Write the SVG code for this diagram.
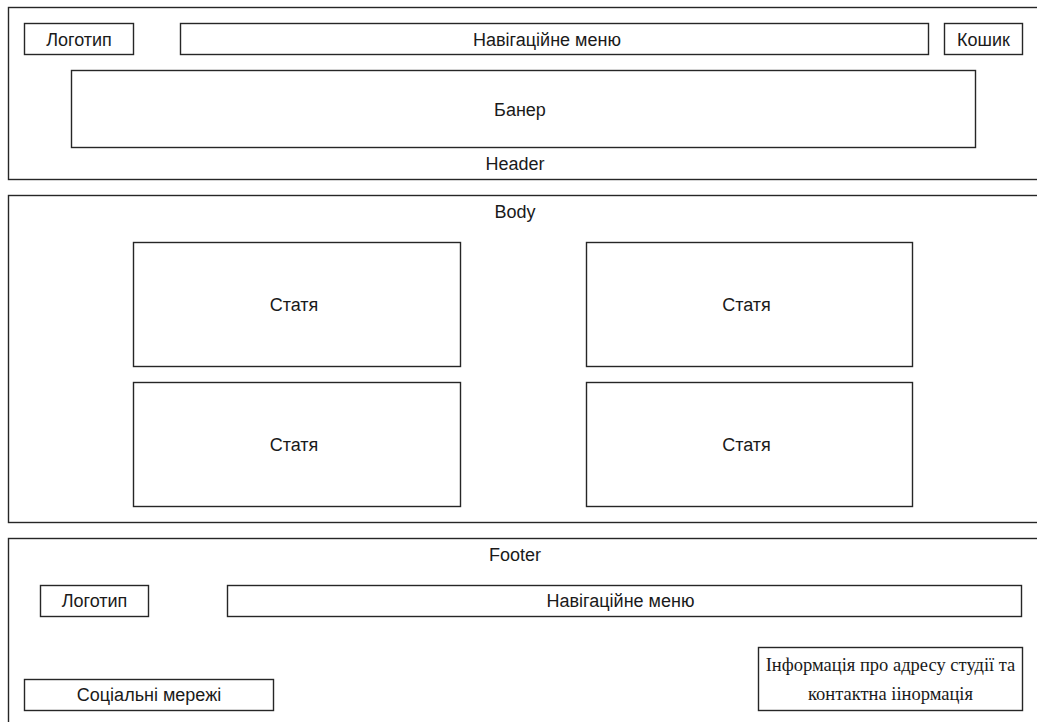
<svg xmlns="http://www.w3.org/2000/svg" width="1037" height="722" viewBox="0 0 1037 722">
<style>
rect{fill:#fff;stroke:#262626;stroke-width:1.4}
text{font-family:"Liberation Sans",Arial,sans-serif;font-size:18px;fill:#1a1a1a;text-anchor:middle}
.serif{font-family:"Liberation Serif","Times New Roman",serif;font-size:18.5px}
</style>
<rect x="0" y="0" width="1037" height="722" style="stroke:none"/>
<g id="header">
<rect x="8.5" y="7.5" width="1040" height="172"/>
<text x="515" y="170">Header</text>
</g>
<g id="logo-top"><rect x="24.5" y="23.5" width="109" height="31"/><text x="79" y="46">Логотип</text></g>
<g id="nav-top"><rect x="180.5" y="23.5" width="748" height="31"/><text x="547" y="46">Навігаційне меню</text></g>
<g id="cart"><rect x="944.5" y="23.5" width="78" height="31"/><text x="983.5" y="46">Кошик</text></g>
<g id="banner"><rect x="71.5" y="70.5" width="904" height="77"/><text x="520" y="116">Банер</text></g>
<g id="body">
<rect x="8.5" y="195.5" width="1040" height="327"/>
<text x="515" y="218">Body</text>
</g>
<g id="article-1"><rect x="133.5" y="242.5" width="327" height="124"/><text x="294" y="311">Статя</text></g>
<g id="article-2"><rect x="586.5" y="242.5" width="326" height="124"/><text x="746.5" y="311">Статя</text></g>
<g id="article-3"><rect x="133.5" y="382.5" width="327" height="124"/><text x="294" y="451">Статя</text></g>
<g id="article-4"><rect x="586.5" y="382.5" width="326" height="124"/><text x="746.5" y="451">Статя</text></g>
<g id="footer">
<rect x="8.5" y="538.5" width="1040" height="200"/>
<text x="515" y="561">Footer</text>
</g>
<g id="logo-bottom"><rect x="40.5" y="585.5" width="108" height="31"/><text x="94.5" y="607">Логотип</text></g>
<g id="nav-bottom"><rect x="227.5" y="585.5" width="794" height="31"/><text x="620.5" y="607">Навігаційне меню</text></g>
<g id="social"><rect x="24.5" y="679.5" width="249" height="31"/><text x="149" y="701">Соціальні мережі</text></g>
<g id="info"><rect x="758.5" y="647.5" width="264" height="63"/><text class="serif" x="890.5" y="671">Інформація про адресу студії та</text><text class="serif" x="890.5" y="700">контактна іінормація</text></g>
<g id="connectors"/>
</svg>
